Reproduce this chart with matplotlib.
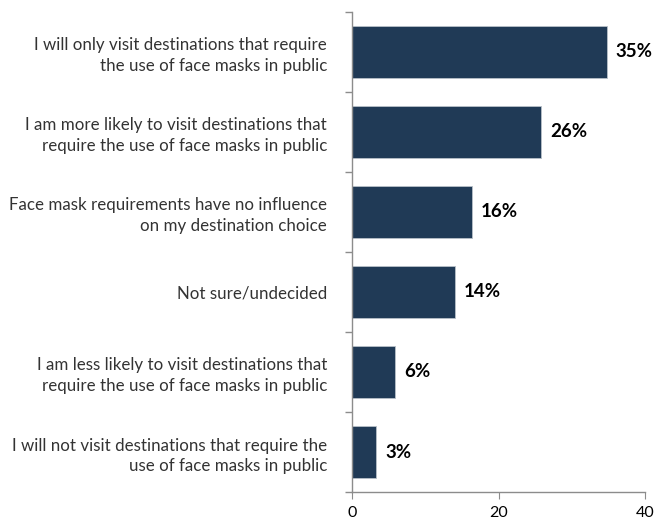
import numpy as np
import matplotlib.pyplot as plt

plt.rcParams['font.family'] = ['Lato', 'DejaVu Sans']

# survey answers, top to bottom
categories = [
    "I will only visit destinations that require\nthe use of face masks in public",
    "I am more likely to visit destinations that\nrequire the use of face masks in public",
    "Face mask requirements have no influence\non my destination choice",
    "Not sure/undecided",
    "I am less likely to visit destinations that\nrequire the use of face masks in public",
    "I will not visit destinations that require the\nuse of face masks in public",
]
values = [34.8, 25.8, 16.4, 14.1, 5.9, 3.3]
value_labels = ["35%", "26%", "16%", "14%", "6%", "3%"]
xticks = [0, 20, 40]

bar_color = "#203a56"
axis_color = "#8c8c8c"

fig = plt.figure(figsize=(6.68, 5.19), dpi=100)
ax = fig.add_axes([0.527, 0.052, 0.4386, 0.925])

y = np.arange(len(categories))
ax.barh(y, values, height=0.66, color=bar_color, edgecolor="#b8c0c8", linewidth=0.6)

for yi, v, lab in zip(y, values, value_labels):
    ax.text(v + 1.2, yi, lab, va="center", ha="left", fontsize=13.5,
            fontweight="bold", color="black")

ax.set_ylim(len(categories) - 0.5, -0.5)
ax.set_xlim(0, 40)

ax.set_yticks(y)
ax.set_yticklabels(categories, fontsize=12.2, color="#333333", linespacing=1.38)
ax.tick_params(axis="y", which="major", length=0, pad=18)
ax.set_yticks(np.arange(len(categories) + 1) - 0.5, minor=True)
ax.tick_params(axis="y", which="minor", length=5, color=axis_color, width=1)

ax.set_xticks(xticks)
ax.tick_params(axis="x", length=5, color=axis_color, labelsize=11.5, pad=5)

for side in ["top", "right"]:
    ax.spines[side].set_visible(False)
for side in ["left", "bottom"]:
    ax.spines[side].set_color(axis_color)
    ax.spines[side].set_linewidth(1)

fig.savefig("out.png", dpi=100)
